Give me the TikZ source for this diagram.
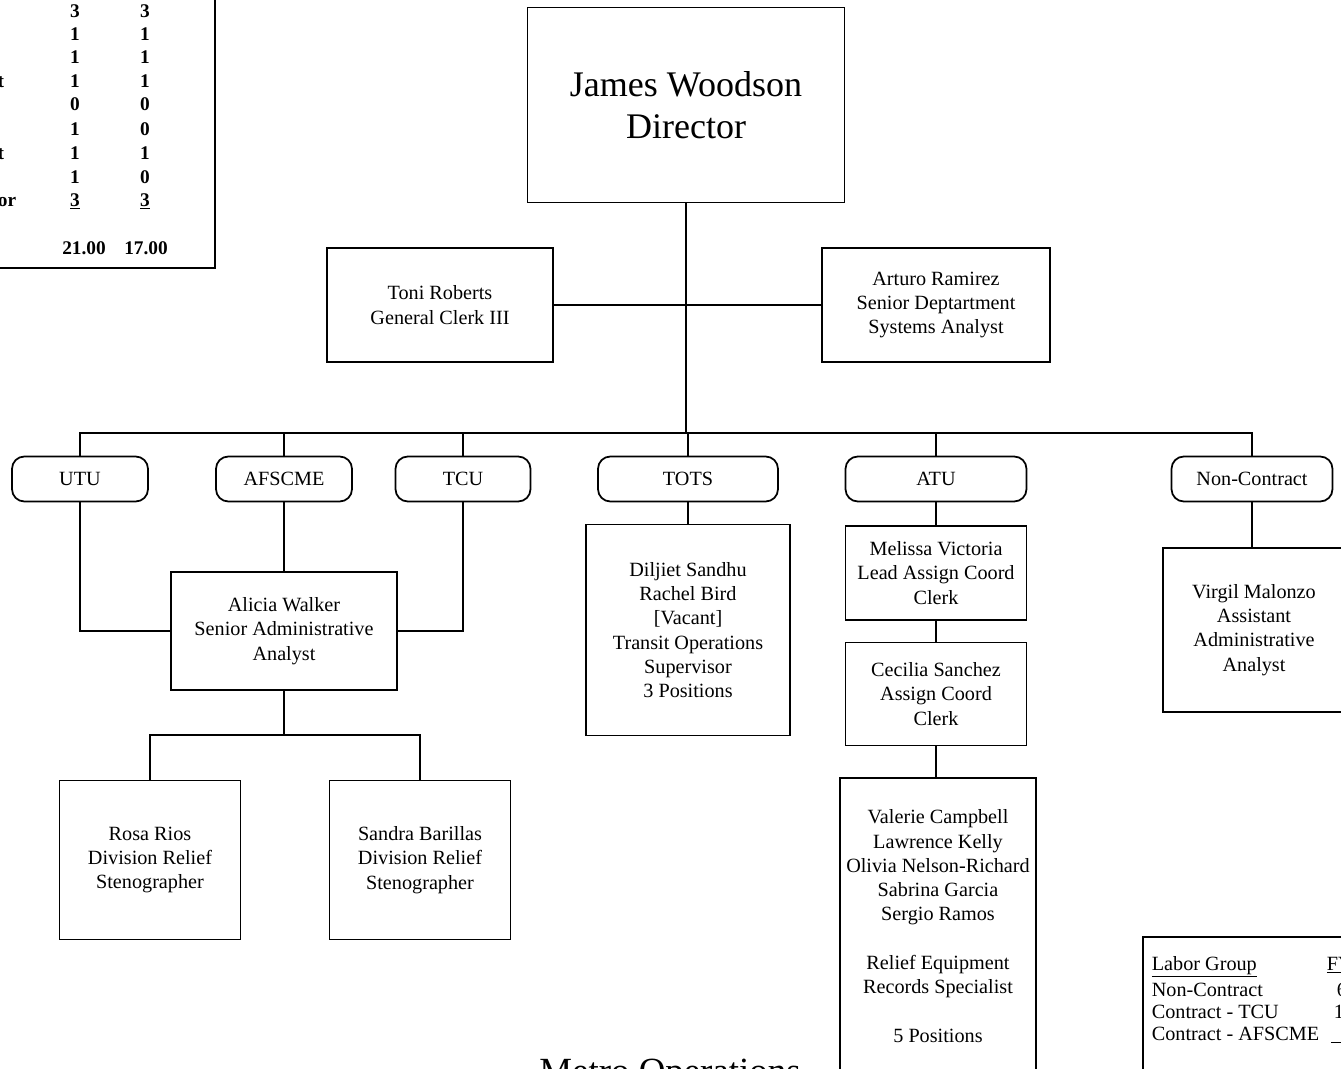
\documentclass[tikz,border=0pt]{standalone}
\usepackage{fontspec}
\setmainfont{Liberation Serif}
\usetikzlibrary{positioning}

\begin{document}
\begin{tikzpicture}[x=0.02cm, y=-0.02cm, line width=1pt,
  box/.style={draw, align=center, inner sep=2pt,
              font=\fontsize{11.5}{13.8}\selectfont},
  union/.style={draw, rounded corners=7pt, minimum height=0.9cm,
                font=\fontsize{11.5}{13.8}\selectfont},
  num/.style={anchor=base, font=\fontsize{11}{13}\selectfont\bfseries},
  row/.style={anchor=base west, inner sep=0pt, font=\fontsize{11.5}{13}\selectfont},
]
\useasboundingbox (0,0) rectangle (1341,1068);

% staffing table, top left
\draw (-5,-5) rectangle (215,268);
\foreach \y/\a/\b in {18/3/3, 41/1/1, 64/1/1, 88/1/1, 111/0/0, 135/1/0,
                      159/1/1, 183/1/0, 206/{\underline{3}}/{\underline{3}}} {
  \node[num] (fya-\y) at (75,\y) {\a};
  \node[num] (fyb-\y) at (145,\y) {\b};
}
\node[num, anchor=base east, inner sep=0pt] (cut1) at (5,88) {t};
\node[num, anchor=base east, inner sep=0pt] (cut2) at (5,159) {t};
\node[num, anchor=base east, inner sep=0pt] (cut3) at (17,206) {or};
\node[num] (tota) at (84,254) {21.00};
\node[num] (totb) at (146,254) {17.00};

% director and staff
\node[box, minimum width=6.34cm, minimum height=3.9cm,
      font=\fontsize{20.5}{24}\selectfont] (dir) at (686,105) {James Woodson\\Director};
\node[box, minimum width=4.52cm, minimum height=2.28cm] (toni) at (440,305)
  {Toni Roberts\\General Clerk III};
\node[box, minimum width=4.56cm, minimum height=2.28cm] (arturo) at (936,305)
  {Arturo Ramirez\\Senior Deptartment\\Systems Analyst};

% labor groups
\node[union, minimum width=2.72cm] (utu) at (80,479) {UTU};
\node[union, minimum width=2.72cm] (afscme) at (284,479) {AFSCME};
\node[union, minimum width=2.70cm] (tcu) at (463,479) {TCU};
\node[union, minimum width=3.60cm] (tots) at (688,479) {TOTS};
\node[union, minimum width=3.62cm] (atu) at (936,479) {ATU};
\node[union, minimum width=3.22cm] (nc) at (1252,479) {Non-Contract};

% positions
\node[box, minimum width=4.52cm, minimum height=2.36cm] (alicia) at (284,631)
  {Alicia Walker\\Senior Administrative\\Analyst};
\node[box, minimum width=3.62cm, minimum height=3.18cm] (rosa) at (150,860)
  {Rosa Rios\\Division Relief\\Stenographer};
\node[box, minimum width=3.62cm, minimum height=3.18cm] (sandra) at (420,860)
  {Sandra Barillas\\Division Relief\\Stenographer};
\node[box, minimum width=4.08cm, minimum height=4.22cm] (totsbox) at (688,630)
  {Diljiet Sandhu\\Rachel Bird\\{[Vacant]}\\Transit Operations\\Supervisor\\3 Positions};
\node[box, minimum width=3.62cm, minimum height=1.88cm] (melissa) at (936,573)
  {Melissa Victoria\\Lead Assign Coord\\Clerk};
\node[box, minimum width=3.62cm, minimum height=2.06cm] (cecilia) at (936,694)
  {Cecilia Sanchez\\Assign Coord\\Clerk};
\node[box, minimum width=3.92cm, minimum height=5.92cm] (valerie) at (938,926)
  {Valerie Campbell\\Lawrence Kelly\\Olivia Nelson-Richard\\Sabrina Garcia\\Sergio Ramos\\[13.8pt]
   Relief Equipment\\Records Specialist\\[13.8pt]5 Positions};
\node[box, minimum width=3.64cm, minimum height=3.28cm] (virgil) at (1254,630)
  {Virgil Malonzo\\Assistant\\Administrative\\Analyst};

% labor group table, bottom right
\draw (1143,937) rectangle (1400,1100);
\node[row] (lg) at (1151,970) {\underline{Labor Group}};
\node[row] (lgfy) at (1326,970) {\underline{FY}};
\node[row] (lgnc) at (1151,996) {Non-Contract};
\node[row] (lgtcu) at (1151,1018) {Contract - TCU};
\node[row] (lgafs) at (1151,1040) {Contract - AFSCME};
\node[row] (lgnc2) at (1336,996) {6};
\node[row] (lgtcu2) at (1333,1018) {1};
\node[row] (lgafs2) at (1330,1040) {\underline{\hphantom{00}}};

\node[anchor=base, font=\fontsize{21}{25}\selectfont] (title) at (670,1083) {Metro Operations};

% connectors
\coordinate (bus) at (686,433);
\coordinate (steno) at (284,735);
\draw (toni.east) -- (arturo.west);
\draw (dir.south) -- (bus);
\draw (utu.north) |- (bus) -| (nc.north);
\foreach \u in {afscme,tcu,tots,atu}
  \draw (\u.north) -- (\u.north |- bus);
\draw (utu.south) |- (alicia.west);
\draw (tcu.south) |- (alicia.east);
\draw (afscme.south) -- (alicia.north);
\draw (alicia.south) -- (steno);
\draw (rosa.north) |- (steno) -| (sandra.north);
\draw (tots.south) -- (totsbox.north);
\draw (atu.south) -- (melissa.north);
\draw (melissa.south) -- (cecilia.north);
\draw (cecilia.south) -- (cecilia.south |- valerie.north);
\draw (nc.south) -- (nc.south |- virgil.north);
\end{tikzpicture}
\end{document}
